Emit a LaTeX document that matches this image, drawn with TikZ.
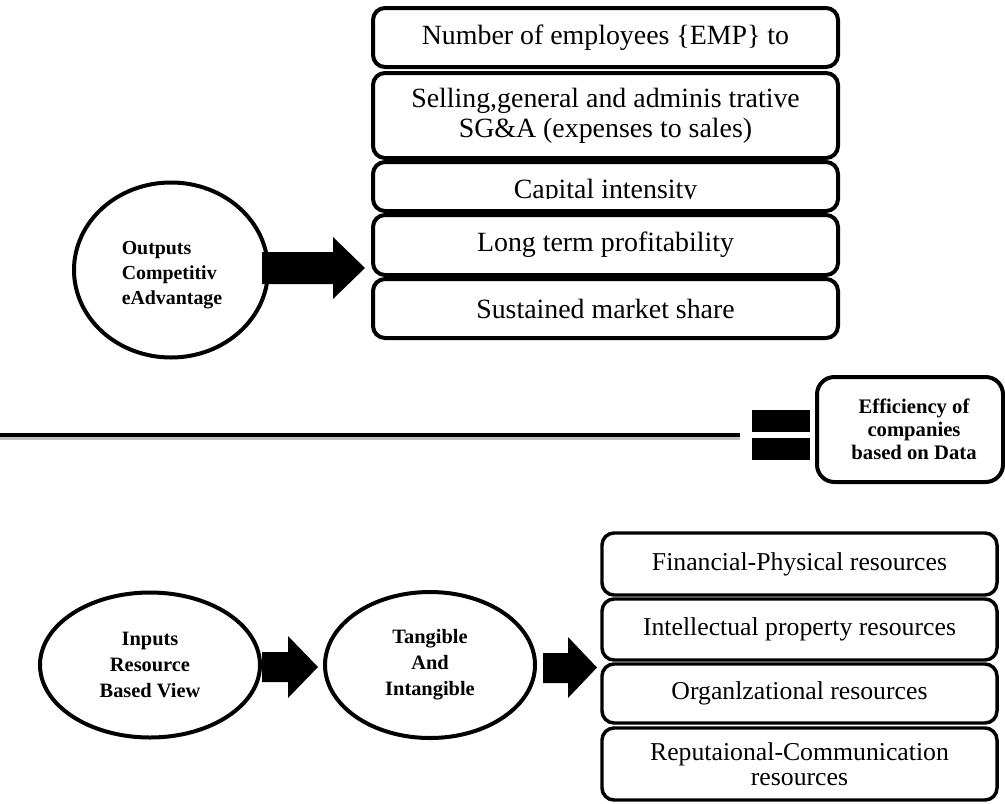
\documentclass[tikz,border=0pt]{standalone}
\usepackage{fontspec}
\setmainfont{Liberation Serif}
\usetikzlibrary{shapes.geometric}
\begin{document}
\begin{tikzpicture}[x=0.75pt,y=-0.75pt,
 box/.style={draw, line width=3pt, rounded corners=9pt, inner sep=0pt, align=center,
   minimum width=465*0.75pt, font=\fontsize{20.9}{22.5}\selectfont},
 rbox/.style={draw, line width=2.6pt, rounded corners=9pt, inner sep=0pt, align=center,
   minimum width=395*0.75pt, font=\fontsize{19.3}{18.75}\selectfont},
 oval/.style={draw, ellipse, line width=3pt, inner sep=0pt, align=center},
 blk/.style={fill=black}
]
\fill[white] (0,0) rectangle (1005,803);
\useasboundingbox (0,0) rectangle (1005,803);

% top stack
\node[box, minimum height=59*0.75pt] (emp) at (605.5,37.5) {Number of employees \{EMP\} to};
\node[box, minimum height=85*0.75pt] (sga) at (605.5,115.5) {Selling,general and adminis trative\\SG\&A (expenses to sales)};
\node[box, minimum height=49*0.75pt] (cap) at (605.5,186.5) {};
\begin{scope}
  \clip (373,162) rectangle (838,198);
  \node[anchor=base, inner sep=0pt, font=\fontsize{20.9}{22.5}\selectfont] (captext) at (605.5,198) {Capital intensity};
\end{scope}
\node[box, minimum height=60*0.75pt] (ltp) at (605.5,245) {Long term profitability};
\node[box, minimum height=59*0.75pt] (sms) at (605.5,308.5) {Sustained market share};

% outputs circle
\node[oval, minimum width=194*0.75pt, minimum height=175*0.75pt] (out) at (171,270) {};
\node[font=\bfseries\fontsize{14.9}{19}\selectfont, align=left, inner sep=0pt] (outtxt) at (172,275) {Outputs\\Competitiv\\eAdvantage};

% top block arrow
\fill[blk] (262,252) -- (333,252) -- (333,237) -- (365,268) -- (333,299) -- (333,284) -- (262,284) -- cycle;

% separator line and equals
\draw[gray!50, line width=2.2pt] (0,438.5) -- (740,438.5);
\draw[line width=3.2pt] (0,435) -- (740,435);
\fill[blk] (752,410) rectangle (810,432);
\fill[blk] (752,438) rectangle (810,460);
\node[draw, line width=3pt, rounded corners=13pt, minimum width=186*0.75pt, minimum height=105*0.75pt] (eff) at (910,429.5) {};
\node[font=\bfseries\fontsize{15.5}{17.25}\selectfont, align=center, inner sep=0pt] (efftxt) at (914,429.5) {Efficiency of\\companies\\based on Data};

% bottom ellipses
\node[oval, minimum width=220*0.75pt, minimum height=145*0.75pt,
  font=\bfseries\fontsize{15.3}{19.5}\selectfont] (inp) at (150,665) {Inputs\\Resource\\Based View};
\node[oval, minimum width=210*0.75pt, minimum height=146*0.75pt,
  font=\bfseries\fontsize{15.3}{19.5}\selectfont] (tan) at (430,665) {Tangible\\And\\Intangible};

% bottom block arrows
\fill[blk] (262,652) -- (288,652) -- (288,636) -- (318,667) -- (288,698) -- (288,682) -- (262,682) -- cycle;
\fill[blk] (543,653) -- (568,653) -- (568,637) -- (597,667.5) -- (568,698) -- (568,683) -- (543,683) -- cycle;

% bottom stack
\node[rbox, minimum height=62*0.75pt] (fin) at (799.5,564) {Financial-Physical resources};
\node[rbox, minimum height=61*0.75pt] (ipr) at (799.5,629.5) {Intellectual property resources};
\node[rbox, minimum height=59*0.75pt] (org) at (799.5,693.5) {Organlzational resources};
\node[rbox, minimum height=72*0.75pt] (rep) at (799.5,764) {Reputaional-Communication\\resources};
\end{tikzpicture}
\end{document}
